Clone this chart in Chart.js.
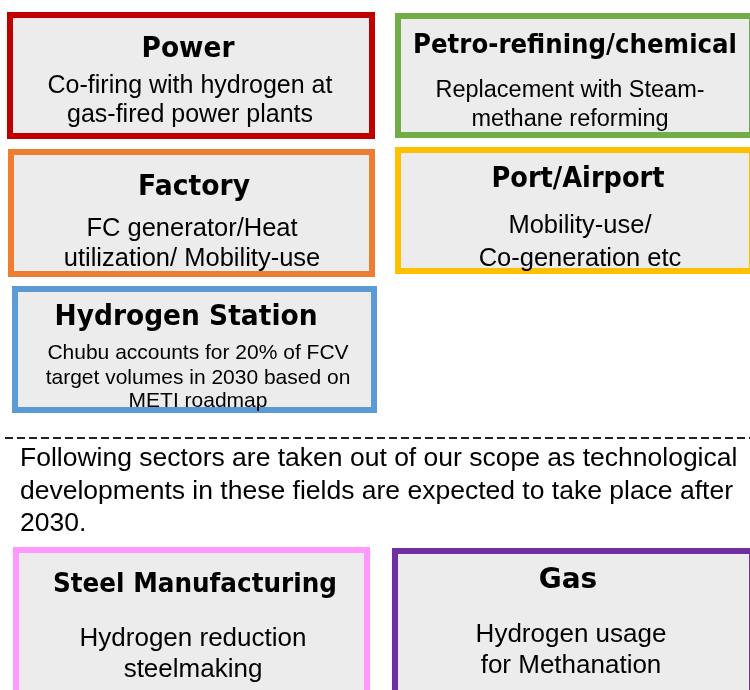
<!DOCTYPE html>
<html>
<head>
<meta charset="utf-8">
<script src="https://cdn.jsdelivr.net/npm/chart.js@4/dist/chart.umd.min.js"></script>
<style>
  html, body { margin: 0; padding: 0; background: #ffffff; }
  #wrap { width: 750px; height: 690px; }
</style>
</head>
<body>
<div id="wrap"><canvas id="sector-chart" width="750" height="690"></canvas></div>
<script>
// sectors in scope
const sectorTitles = ['Power', 'Petro-refining/chemical', 'Factory', 'Port/Airport', 'Hydrogen Station'];
const sectorNotes = [
    ['Co-firing with hydrogen at', 'gas-fired power plants'],
    ['Replacement with Steam-', 'methane reforming'],
    ['FC generator/Heat', 'utilization/ Mobility-use'],
    ['Mobility-use/', 'Co-generation etc'],
    ['Chubu accounts for 20% of FCV', 'target volumes in 2030 based on', 'METI roadmap']
];

// sectors out of scope
const scopeNote = [
    'Following sectors are taken out of our scope as technological',
    'developments in these fields are expected to take place after',
    '2030.'
];
const excludedTitles = ['Steel Manufacturing', 'Gas'];
const excludedNotes = [
    ['Hydrogen reduction', 'steelmaking'],
    ['Hydrogen usage', 'for Methanation']
];

// layout (value space = pixel space of the scales)
// ts = title size, tw = title width to fit
const sectorBoxes = [
    { x0: 7, x1: 375, y0: 12, y1: 139, color: '#C00000', tx: 188, ty: 57, ts: 29, tw: 93, nx: 190, ny: [93, 122], ns: 25 },
    { x0: 395, x1: 755, y0: 13, y1: 138, color: '#70AD47', tx: 575, ty: 53, ts: 27, tw: 324, nx: 570, ny: [97, 126], ns: 23.5 },
    { x0: 8, x1: 375, y0: 149, y1: 277, color: '#ED7D31', tx: 194, ty: 195, ts: 29, tw: 112, nx: 192, ny: [236, 266], ns: 25.5 },
    { x0: 395, x1: 755, y0: 147, y1: 274, color: '#FFC000', tx: 578, ty: 187, ts: 28, tw: 173, nx: 580, ny: [233, 266], ns: 25.5 },
    { x0: 12, x1: 377, y0: 286, y1: 413, color: '#5B9BD5', tx: 186, ty: 325, ts: 27.5, tw: 263, nx: 198, ny: [359, 384, 407], ns: 21 }
];
const excludedBoxes = [
    { x0: 13, x1: 370, y0: 547, y1: 700, color: '#FF99FF', tx: 195, ty: 592, ts: 27, tw: 284, nx: 193, ny: [646, 677], ns: 26 },
    { x0: 392, x1: 755, y0: 548, y1: 700, color: '#7030A0', tx: 568, ty: 588, ts: 28, tw: 61, nx: 571, ny: [642, 673], ns: 26 }
];

// centred text squeezed sideways to a given width
function fitText(ctx, text, x, y, width) {
    const w = ctx.measureText(text).width;
    const k = Math.min(1, width / w);
    ctx.save();
    ctx.translate(x, y);
    ctx.scale(k, 1);
    ctx.fillText(text, 0, 0);
    ctx.restore();
}

function drawBox(ctx, xs, ys, box, title, notes) {
    const left = xs.getPixelForValue(box.x0);
    const right = xs.getPixelForValue(box.x1);
    const top = ys.getPixelForValue(box.y0);
    const bottom = ys.getPixelForValue(box.y1);
    const bw = 6;

    ctx.fillStyle = '#ECECEC';
    ctx.fillRect(left, top, right - left, bottom - top);
    ctx.strokeStyle = box.color;
    ctx.lineWidth = bw;
    ctx.strokeRect(left + bw / 2, top + bw / 2, right - left - bw, bottom - top - bw);

    ctx.fillStyle = '#000000';
    ctx.textAlign = 'center';
    ctx.textBaseline = 'alphabetic';
    ctx.font = 'bold ' + box.ts + 'px "DejaVu Sans"';
    fitText(ctx, title, xs.getPixelForValue(box.tx), ys.getPixelForValue(box.ty), box.tw);

    ctx.font = box.ns + 'px "Liberation Sans"';
    notes.forEach(function (line, i) {
        ctx.fillText(line, xs.getPixelForValue(box.nx), ys.getPixelForValue(box.ny[i]));
    });
}

const sectorPlugin = {
    id: 'sectorBoxes',
    afterDraw(chart) {
        const ctx = chart.ctx;
        const xs = chart.scales.x;
        const ys = chart.scales.y;
        ctx.save();

        sectorBoxes.forEach(function (box, i) {
            drawBox(ctx, xs, ys, box, sectorTitles[i], sectorNotes[i]);
        });

        // dashed separator
        ctx.strokeStyle = '#222222';
        ctx.lineWidth = 2;
        ctx.setLineDash([8, 4]);
        ctx.beginPath();
        ctx.moveTo(xs.getPixelForValue(5), ys.getPixelForValue(438));
        ctx.lineTo(xs.getPixelForValue(750), ys.getPixelForValue(438));
        ctx.stroke();
        ctx.setLineDash([]);

        ctx.fillStyle = '#000000';
        ctx.textAlign = 'left';
        ctx.font = '26.5px "Liberation Sans"';
        const noteY = [466, 499, 531];
        scopeNote.forEach(function (line, i) {
            ctx.fillText(line, xs.getPixelForValue(20), ys.getPixelForValue(noteY[i]));
        });

        excludedBoxes.forEach(function (box, i) {
            drawBox(ctx, xs, ys, box, excludedTitles[i], excludedNotes[i]);
        });

        ctx.restore();
    }
};

const ctx1 = document.getElementById('sector-chart').getContext('2d');
window.theChart = new Chart(ctx1, {
    type: 'scatter',
    data: { datasets: [] },
    options: {
        responsive: false,
        animation: false,
        devicePixelRatio: 1,
        layout: { padding: 0 },
        plugins: { legend: { display: false }, tooltip: { enabled: false } },
        scales: {
            x: { type: 'linear', min: 0, max: 750, display: false },
            y: { type: 'linear', min: 0, max: 690, reverse: true, display: false }
        }
    },
    plugins: [sectorPlugin]
});
</script>
</body>
</html>
